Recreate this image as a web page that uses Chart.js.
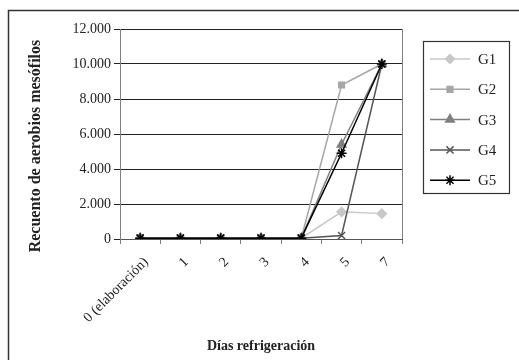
<!DOCTYPE html>
<html><head><meta charset="utf-8">
<script src="https://cdn.jsdelivr.net/npm/chart.js@4/dist/chart.umd.min.js"></script>
<style>html,body{margin:0;padding:0;background:#fff}#w{width:519px;height:360px}</style>
</head><body><div id="w"><canvas id="c" width="519" height="360"></canvas></div>
<script>
const categories = ["0 (elaboración)", "1", "2", "3", "4", "5", "7"];
const seriesNames = ["G1", "G2", "G3", "G4", "G5"];
const G1 = [50, 50, 50, 50, 50, 1550, 1450];
const G2 = [50, 50, 50, 50, 50, 8800, 10000];
const G3 = [50, 50, 50, 50, 50, 5400, 10000];
const G4 = [50, 50, 50, 50, 50, 200, 10000];
const G5 = [50, 50, 50, 50, 50, 4900, 10000];
const yTicks = [0, 2000, 4000, 6000, 8000, 10000, 12000];
const xTitle = "Días refrigeración";
const yTitle = "Recuento de aerobios mesófilos";

const FONT = "'Liberation Serif','Times New Roman',serif";
const styles = [
  {c:'#c8c8c8', p:'rectRot', r:4.5},
  {c:'#a6a6a6', p:'rect', r:4},
  {c:'#808080', p:'triangle', r:5},
  {c:'#555555', p:'crossRot', r:5},
  {c:'#000000', p:'star', r:5}
];
const allSeries = [G1, G2, G3, G4, G5];
const datasets = allSeries.map((d, i) => ({
  label: seriesNames[i], data: d,
  borderColor: styles[i].c, backgroundColor: styles[i].c,
  pointStyle: styles[i].p, pointRadius: styles[i].r,
  pointBorderColor: styles[i].c, pointBackgroundColor: styles[i].c,
  pointBorderWidth: 1.5, borderWidth: 1.5, tension: 0,
  order: 5 - i
}));

const fmt = v => String(v).replace(/\B(?=(\d{3})+(?!\d))/g, '.');

const frame = {
  id: 'frame',
  afterDraw(chart) {
    const ctx = chart.ctx, a = chart.chartArea;
    ctx.save();
    ctx.strokeStyle = '#808080'; ctx.lineWidth = 1;
    ctx.beginPath(); ctx.moveTo(a.right + 0.5, a.top); ctx.lineTo(a.right + 0.5, a.bottom); ctx.stroke();
    ctx.strokeStyle = '#333'; ctx.lineWidth = 1.5;
    ctx.beginPath(); ctx.moveTo(8.5, 360); ctx.lineTo(8.5, 10.5); ctx.lineTo(519, 10.5); ctx.stroke();
    // y title
    ctx.save();
    ctx.translate(36, 146); ctx.rotate(-Math.PI / 2);
    ctx.font = "bold 16px " + FONT; ctx.fillStyle = '#222';
    ctx.textAlign = 'center'; ctx.textBaseline = 'middle';
    ctx.fillText(yTitle, 0, 0);
    ctx.restore();
    // legend
    const bx = 423, by = 41, bw = 86, bh = 152;
    ctx.strokeStyle = '#333'; ctx.lineWidth = 1.2;
    ctx.strokeRect(bx + 0.5, by + 0.5, bw, bh);
    ctx.font = "15px " + FONT; ctx.textBaseline = 'middle'; ctx.textAlign = 'left';
    chart.data.datasets.forEach((ds, i) => {
      const y = by + 18 + i * 30.3;
      ctx.strokeStyle = ds.borderColor; ctx.lineWidth = ds.borderWidth;
      ctx.beginPath(); ctx.moveTo(bx + 7, y); ctx.lineTo(bx + 47, y); ctx.stroke();
      ctx.fillStyle = ds.pointBackgroundColor; ctx.strokeStyle = ds.pointBorderColor; ctx.lineWidth = ds.pointBorderWidth;
      Chart.helpers.drawPoint(ctx, {pointStyle: ds.pointStyle, radius: ds.pointRadius, rotation: 0, borderWidth: ds.pointBorderWidth}, bx + 27, y);
      ctx.fillStyle = '#222';
      ctx.fillText(ds.label, bx + 55, y + 1);
    });
    ctx.restore();
  }
};

new Chart(document.getElementById('c'), {
  type: 'line',
  data: { labels: categories, datasets },
  plugins: [frame],
  options: {
    responsive: false, animation: false, devicePixelRatio: 1,
    layout: { padding: { left: 8, right: 117, top: 29, bottom: 0 } },
    plugins: { legend: { display: false }, tooltip: { enabled: false } },
    scales: {
      x: {
        offset: true,
        grid: { display: true, drawOnChartArea: false, drawTicks: true, tickLength: 5, color: '#808080', offset: true },
        border: { color: '#555', width: 1 },
        ticks: { minRotation: 45, maxRotation: 45, color: '#222', padding: 10, labelOffset: 6, font: { family: FONT, size: 14 } },
        title: { display: true, text: xTitle, color: '#222', font: { family: FONT, size: 14, weight: 'bold' }, padding: { top: 0, bottom: 5 } },
        afterFit(s) { s.height = 121; }
      },
      y: {
        min: 0, max: 12000,
        afterBuildTicks(s) { s.ticks = yTicks.map(v => ({ value: v })); },
        ticks: { color: '#222', padding: 3, font: { family: FONT, size: 14 }, callback: v => fmt(v) },
        grid: { color: '#222', lineWidth: 1, tickLength: 6, drawTicks: true },
        border: { color: '#808080', width: 1 },
        title: { display: false },
        afterFit(s) { s.width = 112; }
      }
    }
  }
});
</script></body></html>
